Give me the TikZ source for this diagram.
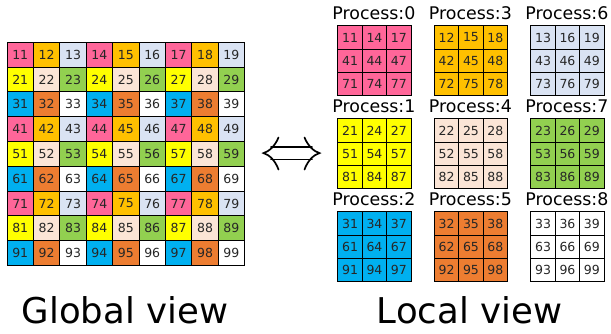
\documentclass[tikz,border=0pt]{standalone}
\usepackage{fontspec}
\setmainfont{DejaVu Sans}
\definecolor{pc0}{HTML}{FF6699}
\definecolor{pc1}{HTML}{FFFF00}
\definecolor{pc2}{HTML}{00B0F0}
\definecolor{pc3}{HTML}{FFC000}
\definecolor{pc4}{HTML}{FBE5D6}
\definecolor{pc5}{HTML}{ED7D31}
\definecolor{pc6}{HTML}{DAE3F3}
\definecolor{pc7}{HTML}{92D050}
\definecolor{pc8}{HTML}{FFFFFF}
\tikzset{
  gcell/.style={draw=black, line width=1.1pt, minimum width=26.4pt, minimum height=24.8pt,
    inner sep=0pt, anchor=north west, text=black!85, font=\fontsize{12.5}{12.5}\selectfont},
  lcell/.style={draw=black, line width=1.1pt, minimum width=24.4pt, minimum height=23.3pt,
    inner sep=0pt, anchor=north west, text=black!85, font=\fontsize{12.5}{12.5}\selectfont},
  plabel/.style={anchor=base, inner sep=0pt, font=\fontsize{17.4}{17.4}\selectfont},
  biglabel/.style={anchor=base, inner sep=0pt, font=\fontsize{35.5}{35.5}\selectfont},
  arrowline/.style={line width=1.7pt, line cap=round}
}
\begin{document}
\begin{tikzpicture}[x=1pt,y=-1pt]
\useasboundingbox (0,0) rectangle (611,333);
% global grid
\foreach \r in {1,...,9}{
  \foreach \c in {1,...,9}{
    \pgfmathtruncatemacro\p{mod(\r-1,3)+3*mod(\c-1,3)}
    \node[gcell, fill=pc\p] (g\r\c) at ({6.5+26.4*(\c-1)},{41.7+24.8*(\r-1)}) {\r\c};
  }
}
% local grids
\foreach \p in {0,...,8}{
  \pgfmathtruncatemacro\j{div(\p,3)}
  \pgfmathtruncatemacro\i{mod(\p,3)}
  \pgfmathsetmacro\gx{337.3+96.5*\j}
  \pgfmathsetmacro\gy{25.3+93*\i}
  \node[plabel] (lab\p) at ({\gx+36.6},{\gy-5.8}) {Process:\p};
  \foreach \k in {0,1,2}{
    \foreach \m in {0,1,2}{
      \pgfmathtruncatemacro\v{(\i+1+3*\k)*10+(\j+1+3*\m)}
      \node[lcell, fill=pc\p] (p\p-\k\m) at ({\gx+24.4*\m},{\gy+23.3*\k}) {\v};
    }
  }
}
% double arrow
\draw[arrowline] (271,146.8) -- (312,146.8);
\draw[arrowline] (271,159.4) -- (312,159.4);
\draw[arrowline] (278.5,137.5) .. controls (275,146) and (269,151.5) .. (263.5,153.1)
  .. controls (269,154.7) and (275,160) .. (278.5,169.5);
\draw[arrowline] (304.5,137.5) .. controls (308,146) and (314,151.5) .. (319.5,153.1)
  .. controls (314,154.7) and (308,160) .. (304.5,169.5);
% titles
\node[biglabel] (global) at (125,323.5) {Global view};
\node[biglabel] (local) at (469.5,323.5) {Local view};
\end{tikzpicture}
\end{document}
